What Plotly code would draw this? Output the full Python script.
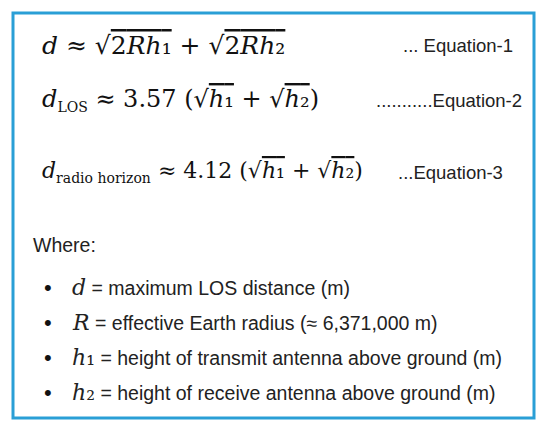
import plotly.graph_objects as go

OL = "<span style='text-decoration:overline'>"
SUB = "<span style='font-size:14px'>"
eq_texts = [
    f"<i>d</i> ≈ √{OL}2<i>Rh</i>₁</span> + √{OL}2<i>Rh</i>₂</span>",
    f"<i>d</i><sub>{SUB}LOS</span></sub> ≈ 3.57 (√{OL}<i>h</i>₁</span> + √{OL}<i>h</i>₂</span>)",
    f"<i>d</i><sub>{SUB}radio horizon</span></sub> ≈ 4.12 (√{OL}<i>h</i>₁</span> + √{OL}<i>h</i>₂</span>)",
]
eq_y = [385, 330, 258]
eq_sizes = [25, 24, 22]
eq_labels = ["... Equation-1", "...........Equation-2", "...Equation-3"]
eq_label_x = [515, 524, 505]
where_text = "Where:"
bullet_syms = ["<i>d</i>", "<i>R</i>", "<i>h</i>₁", "<i>h</i>₂"]
bullet_texts = [
    " = maximum LOS distance (m)",
    " = effective Earth radius (≈ 6,371,000 m)",
    " = height of transmit antenna above ground (m)",
    " = height of receive antenna above ground (m)",
]
bullet_y = [143, 108, 73, 38]

fig = go.Figure()
ann = []
sans = dict(family="Liberation Sans", size=19.5, color="#222")
for t, y, s in zip(eq_texts, eq_y, eq_sizes):
    ann.append(dict(x=40, y=y, text=t, xanchor="left", yanchor="middle",
                    font=dict(family="DejaVu Serif", size=s, color="#111"), showarrow=False))
for t, y, x in zip(eq_labels, eq_y, eq_label_x):
    ann.append(dict(x=x, y=y, text=t, xanchor="right", yanchor="middle",
                    font=dict(family="Liberation Sans", size=18.5, color="#222"), showarrow=False))
ann.append(dict(x=31, y=185, text=where_text, xanchor="left", yanchor="middle", font=sans, showarrow=False))
for s, t, y in zip(bullet_syms, bullet_texts, bullet_y):
    ann.append(dict(x=42, y=y, text="•", xanchor="left", yanchor="middle", font=dict(family="Liberation Sans", size=22, color="#111"), showarrow=False))
    ann.append(dict(x=70, y=y, text=f"<span style='font-family:DejaVu Serif;font-size:22px'>{s}</span>{t}",
                    xanchor="left", yanchor="middle", font=sans, showarrow=False))

fig.update_layout(
    width=547, height=430, margin=dict(l=0, r=0, t=0, b=0),
    paper_bgcolor="white", plot_bgcolor="white",
    xaxis=dict(range=[8, 555], visible=False, fixedrange=True),
    yaxis=dict(range=[-8, 422], visible=False, fixedrange=True),
    annotations=ann,
    shapes=[dict(type="rect", x0=13, x1=534, y0=12, y1=417, line=dict(color="#2a9fd6", width=3))],
    showlegend=False,
)
fig.write_html("out.html")
